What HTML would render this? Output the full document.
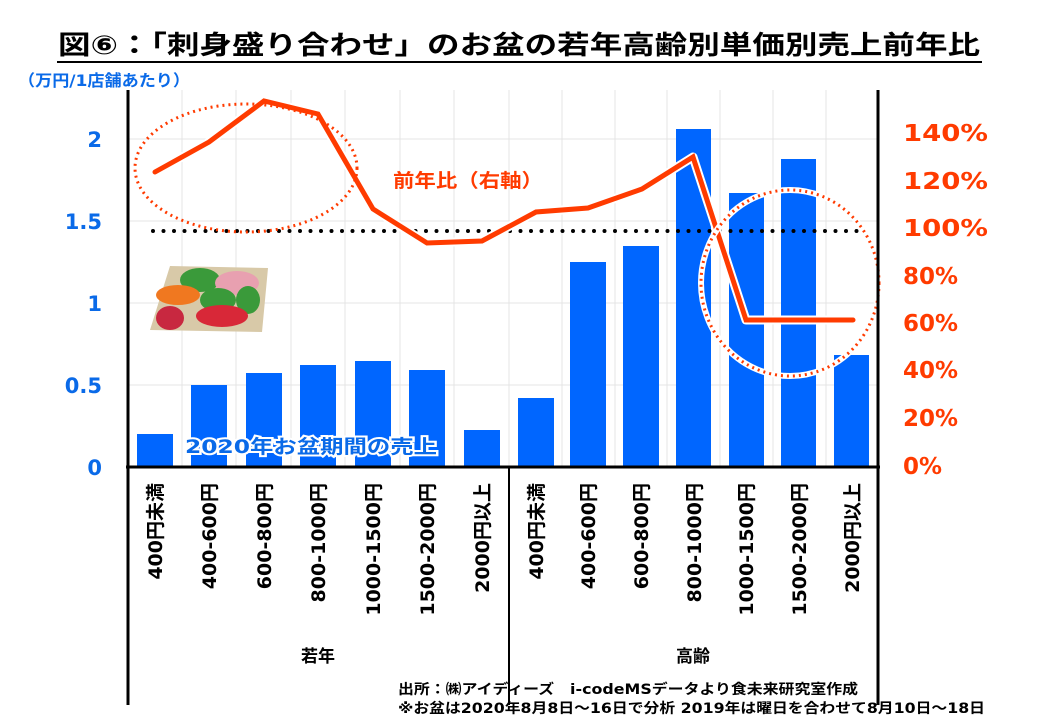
<!DOCTYPE html>
<html><head><meta charset="utf-8"><style>
body{margin:0;background:#fff;}
svg{display:block;font-family:"DejaVu Sans","Noto Sans CJK JP",sans-serif;font-weight:bold;}
</style></head><body>
<svg width="1040" height="720" viewBox="0 0 1040 720" xmlns="http://www.w3.org/2000/svg">
<text x="58" y="54" font-size="26" textLength="922" lengthAdjust="spacingAndGlyphs" fill="#000">図⑥：「刺身盛り合わせ」のお盆の若年高齢別単価別売上前年比</text>
<line x1="57" y1="62" x2="982" y2="62" stroke="#000" stroke-width="2"/>
<text x="18" y="86" font-size="16" textLength="172" lengthAdjust="spacingAndGlyphs" fill="#0a6ae8">（万円/1店舗あたり）</text>
<g stroke="#e4e4e4" stroke-width="1">
<line x1="128" y1="139" x2="878" y2="139"/><line x1="128" y1="221" x2="878" y2="221"/>
<line x1="128" y1="303" x2="878" y2="303"/><line x1="128" y1="385" x2="878" y2="385"/>
<line x1="182" y1="90" x2="182" y2="467"/><line x1="236" y1="90" x2="236" y2="467"/>
<line x1="291" y1="90" x2="291" y2="467"/><line x1="345" y1="90" x2="345" y2="467"/>
<line x1="400" y1="90" x2="400" y2="467"/><line x1="454" y1="90" x2="454" y2="467"/>
<line x1="509" y1="90" x2="509" y2="467"/><line x1="562" y1="90" x2="562" y2="467"/>
<line x1="615" y1="90" x2="615" y2="467"/><line x1="667" y1="90" x2="667" y2="467"/>
<line x1="720" y1="90" x2="720" y2="467"/><line x1="773" y1="90" x2="773" y2="467"/>
<line x1="826" y1="90" x2="826" y2="467"/>
</g>
<g fill="#0066ff">
<rect x="137" y="434" width="36" height="33"/>
<rect x="191" y="385" width="36" height="82"/>
<rect x="246" y="373" width="36" height="94"/>
<rect x="300" y="365" width="36" height="102"/>
<rect x="355" y="361" width="36" height="106"/>
<rect x="409" y="370" width="36" height="97"/>
<rect x="464" y="430" width="36" height="37"/>
<rect x="518" y="398" width="36" height="69"/>
<rect x="570" y="262" width="36" height="205"/>
<rect x="623" y="246" width="36" height="221"/>
<rect x="676" y="129" width="35" height="338"/>
<rect x="729" y="193" width="35" height="274"/>
<rect x="781" y="159" width="35" height="308"/>
<rect x="834" y="355" width="35" height="112"/>
</g>
<line x1="153" y1="231" x2="860" y2="231" stroke="#000" stroke-width="4" stroke-linecap="round" stroke-dasharray="0 10.5"/>
<polyline points="155,172 209,142 264,101 318,114 373,209 427,243 482,241 536,212 588,208 642,189 693,157 746,320 800,320 853,320" fill="none" stroke="#fff" stroke-width="9" stroke-linejoin="round"/>
<polyline points="155,172 209,142 264,101 318,114 373,209 427,243 482,241 536,212 588,208 642,189 693,157 746,320 800,320 853,320" fill="none" stroke="#ff3b00" stroke-width="5" stroke-linejoin="miter" stroke-linecap="round"/>
<ellipse cx="246" cy="168" rx="111" ry="64" fill="none" stroke="#ff3b00" stroke-width="3" stroke-dasharray="2 4"/>
<ellipse cx="790" cy="283" rx="89" ry="93" fill="none" stroke="#fff" stroke-width="6"/>
<ellipse cx="790" cy="283" rx="89" ry="93" fill="none" stroke="#ff3b00" stroke-width="3" stroke-dasharray="2 4"/>
<text x="393" y="187" font-size="19" textLength="150" lengthAdjust="spacingAndGlyphs" fill="#ff3b00">前年比（右軸）</text>
<g>
<path d="M170 266 L268 268 L262 332 L150 330 Z" fill="#d8c9a8"/>
<ellipse cx="200" cy="280" rx="20" ry="12" fill="#3a9a3a"/>
<ellipse cx="178" cy="295" rx="22" ry="10" fill="#f07820"/>
<ellipse cx="237" cy="283" rx="22" ry="12" fill="#e8a0b0"/>
<ellipse cx="218" cy="300" rx="18" ry="12" fill="#3a9a3a"/>
<ellipse cx="248" cy="300" rx="12" ry="14" fill="#3a9a3a"/>
<ellipse cx="222" cy="316" rx="26" ry="11" fill="#d82838"/>
<ellipse cx="170" cy="318" rx="14" ry="12" fill="#c82840"/>
</g>
<line x1="128" y1="90" x2="128" y2="705" stroke="#000" stroke-width="3"/>
<line x1="878" y1="90" x2="878" y2="705" stroke="#000" stroke-width="3"/>
<line x1="509" y1="467" x2="509" y2="705" stroke="#000" stroke-width="2"/>
<line x1="126" y1="467" x2="880" y2="467" stroke="#000" stroke-width="3"/>
<g font-size="21" fill="#0a6ae8" text-anchor="end">
<text x="102" y="147">2</text><text x="102" y="229">1.5</text><text x="102" y="311">1</text>
<text x="102" y="393">0.5</text><text x="102" y="475">0</text>
</g>
<g font-size="23" fill="#ff3b00">
<text x="903" y="141" textLength="85" lengthAdjust="spacingAndGlyphs">140%</text>
<text x="903" y="189" textLength="85" lengthAdjust="spacingAndGlyphs">120%</text>
<text x="903" y="236" textLength="85" lengthAdjust="spacingAndGlyphs">100%</text>
<text x="903" y="284" textLength="55" lengthAdjust="spacingAndGlyphs">80%</text>
<text x="903" y="331" textLength="55" lengthAdjust="spacingAndGlyphs">60%</text>
<text x="903" y="378" textLength="55" lengthAdjust="spacingAndGlyphs">40%</text>
<text x="903" y="426" textLength="55" lengthAdjust="spacingAndGlyphs">20%</text>
<text x="903" y="474" textLength="39" lengthAdjust="spacingAndGlyphs">0%</text>
</g>
<text x="185" y="453" font-size="19" textLength="252" lengthAdjust="spacingAndGlyphs" fill="#0a6ae8" stroke="#fff" stroke-width="4" paint-order="stroke">2020年お盆期間の売上</text>
<g font-size="19" fill="#000" text-anchor="end">
<text transform="translate(162,483) rotate(-90)">400円未満</text>
<text transform="translate(216,483) rotate(-90)">400-600円</text>
<text transform="translate(271,483) rotate(-90)">600-800円</text>
<text transform="translate(325,483) rotate(-90)">800-1000円</text>
<text transform="translate(380,483) rotate(-90)">1000-1500円</text>
<text transform="translate(434,483) rotate(-90)">1500-2000円</text>
<text transform="translate(489,483) rotate(-90)">2000円以上</text>
<text transform="translate(543,483) rotate(-90)">400円未満</text>
<text transform="translate(595,483) rotate(-90)">400-600円</text>
<text transform="translate(648,483) rotate(-90)">600-800円</text>
<text transform="translate(701,483) rotate(-90)">800-1000円</text>
<text transform="translate(753,483) rotate(-90)">1000-1500円</text>
<text transform="translate(806,483) rotate(-90)">1500-2000円</text>
<text transform="translate(859,483) rotate(-90)">2000円以上</text>
</g>
<text x="318" y="662" font-size="17" text-anchor="middle">若年</text>
<text x="693" y="662" font-size="17" text-anchor="middle">高齢</text>
<text x="398" y="694" font-size="14" textLength="460" lengthAdjust="spacingAndGlyphs">出所：㈱アイディーズ　i-codeMSデータより食未来研究室作成</text>
<text x="398" y="713" font-size="14" textLength="587" lengthAdjust="spacingAndGlyphs">※お盆は2020年8月8日～16日で分析  2019年は曜日を合わせて8月10日～18日</text>
</svg>
</body></html>
